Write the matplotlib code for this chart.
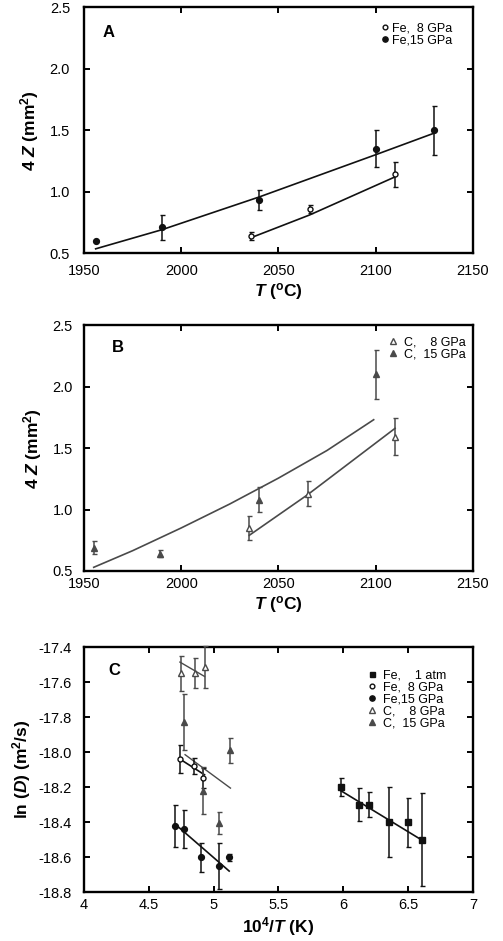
import matplotlib
matplotlib.use('Agg')
import matplotlib.pyplot as plt
from matplotlib.lines import Line2D

plt.rcParams['font.family'] = ['Liberation Sans', 'DejaVu Sans']
plt.rcParams['axes.unicode_minus'] = False
plt.rcParams['mathtext.fontset'] = 'custom'
plt.rcParams['mathtext.rm'] = 'Liberation Sans:bold'
plt.rcParams['mathtext.it'] = 'Liberation Sans:bold:italic'
plt.rcParams['mathtext.bf'] = 'Liberation Sans:bold'

# ---- panel A: Fe, 4Z vs T ----
fe8_T = [2036, 2066, 2110]
fe8_z = [0.64, 0.86, 1.14]
fe8_err = [0.03, 0.035, 0.10]
fe15_T = [1956, 1990, 2040, 2100, 2130]
fe15_z = [0.60, 0.71, 0.93, 1.35, 1.50]
fe15_err = [0.0, 0.10, 0.08, 0.15, 0.20]
fe8_fit_T = [2036, 2066, 2110]
fe8_fit_z = [0.626, 0.81, 1.12]
fe15_fit_T = [1956, 1990, 2040, 2100, 2130]
fe15_fit_z = [0.535, 0.69, 0.956, 1.30, 1.475]

# ---- panel B: C, 4Z vs T ----
c8_T = [2035, 2065, 2110]
c8_z = [0.85, 1.13, 1.59]
c8_err = [0.10, 0.10, 0.15]
c15_T = [1955, 1989, 2040, 2100]
c15_z = [0.69, 0.64, 1.08, 2.10]
c15_err = [0.05, 0.03, 0.10, 0.20]
c8_fit_T = [2035, 2065, 2110]
c8_fit_z = [0.79, 1.12, 1.66]
c15_fit_T = [1955, 1975, 2000, 2025, 2050, 2075, 2099]
c15_fit_z = [0.53, 0.665, 0.85, 1.045, 1.255, 1.48, 1.73]

# ---- panel C: ln(D) vs 1e4/T ----
fe1_x = [5.98, 6.12, 6.20, 6.35, 6.50, 6.61]
fe1_y = [-18.20, -18.30, -18.30, -18.40, -18.40, -18.50]
fe1_err = [0.05, 0.095, 0.07, 0.20, 0.14, 0.265]
fe1_fit_x = [5.98, 6.60]
fe1_fit_y = [-18.22, -18.50]

d_fe8_x = [4.74, 4.85, 4.92]
d_fe8_y = [-18.04, -18.08, -18.15]
d_fe8_err = [0.08, 0.045, 0.057]
d_fe8_fit_x = [4.74, 4.93]
d_fe8_fit_y = [-18.04, -18.13]

d_fe15_x = [4.70, 4.77, 4.905, 5.04, 5.12]
d_fe15_y = [-18.42, -18.44, -18.60, -18.65, -18.60]
d_fe15_err = [0.12, 0.11, 0.083, 0.13, 0.02]
d_fe15_fit_x = [4.70, 5.12]
d_fe15_fit_y = [-18.41, -18.68]

d_c8_x = [4.745, 4.86, 4.93]
d_c8_y = [-17.55, -17.55, -17.515]
d_c8_err = [0.10, 0.086, 0.12]
d_c8_fit_x = [4.74, 4.93]
d_c8_fit_y = [-17.486, -17.568]

d_c15_x = [4.775, 4.915, 5.045, 5.125]
d_c15_y = [-17.83, -18.22, -18.405, -17.99]
d_c15_err = [0.16, 0.135, 0.062, 0.07]
d_c15_fit_x = [4.78, 5.13]
d_c15_fit_y = [-18.015, -18.206]

BLACK = '#111111'
GRAY = '#4a4a4a'
TICK_FS = 10.5
LABEL_FS = 12.5
LEG_FS = 9


def style_axes(ax, xpad, ypad):
    for sp in ax.spines.values():
        sp.set_linewidth(1.7)
    ax.tick_params(direction='in', length=4, width=1.4, top=True, right=True,
                   labelsize=TICK_FS)
    ax.tick_params(axis='x', pad=xpad)
    ax.tick_params(axis='y', pad=ypad)


def errpts(ax, x, y, e, marker, color, face, ms):
    ax.errorbar(x, y, yerr=e, fmt=marker, color=color, mfc=face, mec=color,
                ms=ms, mew=1.0, elinewidth=1.1, capsize=1.8, capthick=1.0,
                ecolor=color, clip_on=False, zorder=3)


def handle(marker, color, face, ms):
    return Line2D([], [], ls='none', marker=marker, color=color, mfc=face,
                  mec=color, ms=ms, mew=1.0)


def add_legend(ax, handles, labels, x, y, textpad):
    ax.legend(handles, labels, loc='upper left', bbox_to_anchor=(x, y),
              frameon=False, fontsize=LEG_FS, handlelength=0.5,
              handletextpad=textpad, labelspacing=0.0, borderaxespad=0.0,
              borderpad=0.0)


fig = plt.figure(figsize=(5.03, 9.41), dpi=100)
left, width = 0.167, 0.773
axA = fig.add_axes([left, 0.731, width, 0.2614])
axB = fig.add_axes([left, 0.3932, width, 0.2614])
axC = fig.add_axes([left, 0.052, width, 0.2604])

# panel A
axA.plot(fe15_fit_T, fe15_fit_z, color=BLACK, lw=1.2, zorder=2)
axA.plot(fe8_fit_T, fe8_fit_z, color=BLACK, lw=1.2, zorder=2)
errpts(axA, fe8_T, fe8_z, fe8_err, 'o', BLACK, 'white', 3.6)
errpts(axA, fe15_T, fe15_z, fe15_err, 'o', BLACK, BLACK, 4.2)
add_legend(axA, [handle('o', BLACK, 'white', 3.4), handle('o', BLACK, BLACK, 3.8)],
           ['Fe,  8 GPa', 'Fe,15 GPa'], 0.766, 0.939, 0.3)

# panel B
axB.plot(c15_fit_T, c15_fit_z, color=GRAY, lw=1.2, zorder=2)
axB.plot(c8_fit_T, c8_fit_z, color=GRAY, lw=1.2, zorder=2)
errpts(axB, c8_T, c8_z, c8_err, '^', GRAY, 'white', 4.2)
errpts(axB, c15_T, c15_z, c15_err, '^', GRAY, GRAY, 4.6)
add_legend(axB, [handle('^', GRAY, 'white', 4.0), handle('^', GRAY, GRAY, 4.2)],
           ['C,    8 GPa', 'C,  15 GPa'], 0.787, 0.955, 0.6)

for ax, letter, lx, ly, xpad, ypad in ((axA, 'A', 0.049, 0.878, 8, 10),
                                       (axB, 'B', 0.072, 0.89, 4.5, 8)):
    ax.set_xlim(1950, 2150)
    ax.set_ylim(0.5, 2.5)
    ax.set_xticks([1950, 2000, 2050, 2100, 2150])
    ax.set_yticks([0.5, 1.0, 1.5, 2.0, 2.5])
    ax.set_yticklabels(['0.5', '1.0', '1.5', '2.0', '2.5'])
    style_axes(ax, xpad, ypad)
    ax.set_xlabel('$T$ ($^\\mathrm{o}$C)', fontsize=LABEL_FS, fontweight='bold',
                  labelpad=2)
    ax.set_ylabel('4 $Z$ (mm$^2$)', fontsize=LABEL_FS, fontweight='bold',
                  labelpad=6)
    ax.text(lx, ly, letter, transform=ax.transAxes, fontsize=12,
            fontweight='bold')

# panel C
axC.plot(fe1_fit_x, fe1_fit_y, color=BLACK, lw=1.2, zorder=2)
axC.plot(d_fe8_fit_x, d_fe8_fit_y, color=BLACK, lw=1.2, zorder=2)
axC.plot(d_fe15_fit_x, d_fe15_fit_y, color=BLACK, lw=1.2, zorder=2)
axC.plot(d_c8_fit_x, d_c8_fit_y, color=GRAY, lw=1.0, zorder=2)
axC.plot(d_c15_fit_x, d_c15_fit_y, color=GRAY, lw=1.0, zorder=2)
errpts(axC, fe1_x, fe1_y, fe1_err, 's', BLACK, BLACK, 4.0)
errpts(axC, d_fe8_x, d_fe8_y, d_fe8_err, 'o', BLACK, 'white', 3.6)
errpts(axC, d_fe15_x, d_fe15_y, d_fe15_err, 'o', BLACK, BLACK, 4.2)
errpts(axC, d_c8_x, d_c8_y, d_c8_err, '^', GRAY, 'white', 4.2)
errpts(axC, d_c15_x, d_c15_y, d_c15_err, '^', GRAY, GRAY, 4.6)
add_legend(axC,
           [handle('s', BLACK, BLACK, 3.6), handle('o', BLACK, 'white', 3.4),
            handle('o', BLACK, BLACK, 3.8), handle('^', GRAY, 'white', 4.0),
            handle('^', GRAY, GRAY, 4.2)],
           ['Fe,    1 atm', 'Fe,  8 GPa', 'Fe,15 GPa', 'C,    8 GPa',
            'C,  15 GPa'], 0.733, 0.910, 0.6)

axC.set_xlim(4, 7)
axC.set_ylim(-18.8, -17.4)
axC.set_xticks([4, 4.5, 5, 5.5, 6, 6.5, 7])
axC.set_xticklabels(['4', '4.5', '5', '5.5', '6', '6.5', '7'])
yt = [-18.8, -18.6, -18.4, -18.2, -18.0, -17.8, -17.6, -17.4]
axC.set_yticks(yt)
axC.set_yticklabels(['%.1f' % v for v in yt])
style_axes(axC, 4.5, 9)
axC.set_xlabel('10$^4$/$T$ (K)', fontsize=LABEL_FS, fontweight='bold',
               labelpad=2)
axC.set_ylabel('ln ($D$) (m$^2$/s)', fontsize=LABEL_FS, fontweight='bold',
               labelpad=4)
axC.text(0.062, 0.886, 'C', transform=axC.transAxes, fontsize=12,
         fontweight='bold')

fig.savefig('out.png', dpi=100)
